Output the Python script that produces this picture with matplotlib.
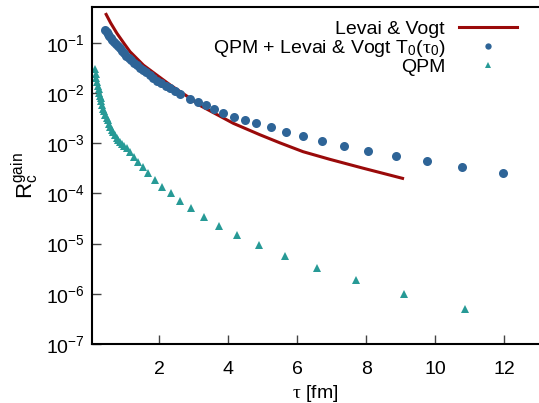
import matplotlib
matplotlib.use("Agg")
import matplotlib.pyplot as plt

plt.rcParams['font.family'] = ['Liberation Sans', 'DejaVu Sans']
plt.rcParams['mathtext.fontset'] = 'custom'
plt.rcParams['mathtext.rm'] = 'Liberation Sans'
plt.rcParams['mathtext.it'] = 'Liberation Serif'
plt.rcParams['font.size'] = 14

# Levai & Vogt (line)
lv_tau = [0.47, 0.6, 0.78, 1.0, 1.16, 1.55, 1.93, 2.32, 2.9, 3.18, 4.15, 4.92, 5.5, 6.17, 6.94, 7.9, 9.05]
lv_r = [0.37, 0.25, 0.156, 0.095, 0.067, 0.036, 0.023, 0.0146, 0.0079, 0.0057, 0.0025, 0.00148,
        0.00102, 0.00068, 0.00048, 0.00032, 0.0002]

# QPM + Levai & Vogt T0(tau0) (dots)
qlv_tau = [0.44, 0.48, 0.52, 0.56, 0.60, 0.65, 0.70, 0.75, 0.80, 0.86, 0.92, 0.98, 1.05, 1.12,
           1.19, 1.27, 1.35, 1.44, 1.53, 1.63, 1.73, 1.84, 1.95, 2.07, 2.20, 2.33, 2.46,
           2.61, 2.90, 3.14, 3.35, 3.59, 3.86, 4.17, 4.49, 4.82, 5.24, 5.67, 6.17, 6.73,
           7.36, 8.05, 8.85, 9.75, 10.78, 11.96]
qlv_r = [0.180, 0.165, 0.150, 0.137, 0.126, 0.114, 0.103, 0.094, 0.087, 0.078, 0.070, 0.063,
         0.056, 0.050, 0.045, 0.040, 0.036, 0.032, 0.029, 0.026, 0.023, 0.020, 0.0178,
         0.0158, 0.0140, 0.0124, 0.0110, 0.0095, 0.0078, 0.0066, 0.0057, 0.0048, 0.0040,
         0.0034, 0.0029, 0.0025, 0.0021, 0.00166, 0.00138, 0.00112, 0.0009, 0.00071,
         0.00057, 0.00044, 0.00034, 0.000257]

# QPM (triangles)
qpm_tau = [0.15, 0.17, 0.19, 0.21, 0.23, 0.25, 0.27, 0.29, 0.31, 0.33, 0.36, 0.39, 0.42, 0.45,
           0.48, 0.51, 0.55, 0.59, 0.63, 0.67, 0.72, 0.77, 0.82, 0.88, 0.94, 1.00, 1.07,
           1.16, 1.28, 1.40, 1.55, 1.69, 1.88, 2.10, 2.34, 2.61, 2.92, 3.30, 3.73, 4.26,
           4.89, 5.64, 6.57, 7.70, 9.10, 10.86]
qpm_r = [0.0302, 0.0245, 0.0204, 0.0170, 0.0141, 0.0120, 0.0102, 0.0089, 0.0079, 0.0069,
         0.0058, 0.0049, 0.0043, 0.0037, 0.0032, 0.0029, 0.00245, 0.00214, 0.00186, 0.00166,
         0.00145, 0.00129, 0.00117, 0.00105, 0.00095, 0.00087, 0.00079, 0.00068, 0.00054,
         0.00042, 0.000334, 0.000253, 0.000186, 0.000137, 0.000102, 7.2e-5, 5.1e-5,
         3.47e-5, 2.29e-5, 1.5e-5, 9.3e-6, 5.8e-6, 3.34e-6, 1.88e-6, 9.9e-7, 4.9e-7]

xticks = [2, 4, 6, 8, 10, 12]

fig = plt.figure(figsize=(5.39, 4.03), dpi=100)
ax = fig.add_axes([92 / 539, 59 / 403, 1 - 92 / 539, 337 / 403])

ax.plot(lv_tau, lv_r, color='#9a0a0a', lw=2.2, label='Levai & Vogt')
ax.plot(qlv_tau, qlv_r, 'o', color='#2e6497', ms=6.5, mew=0,
        label=r'QPM + Levai & Vogt T$_\mathrm{0}$($\tau_\mathrm{0}$)')
ax.plot(qpm_tau, qpm_r, '^', color='#279a96', ms=5.4, mew=0, label='QPM')

ax.set_yscale('log')
ax.set_xlim(0.06, 13.0)
ax.set_ylim(1e-7, 0.52)
ax.set_xticks(xticks)
ax.set_xticklabels([str(t) for t in xticks])
ax.minorticks_off()
ax.tick_params(direction='in', length=6.5, width=1.0, color='#444444', pad=5)
ax.tick_params(axis='x', pad=12)
for s in ['left', 'bottom', 'top']:
    ax.spines[s].set_linewidth(1.5)
ax.spines['right'].set_visible(False)

ax.set_xlabel(r'$\tau$ [fm]', labelpad=4)
ax.set_ylabel(r'R$_\mathrm{c}^\mathrm{gain}$', fontsize=16, labelpad=4)

ax.legend(loc='upper right', bbox_to_anchor=(517 / 539, 383 / 403),
          bbox_transform=fig.transFigure, frameon=False, markerfirst=False,
          handlelength=3.0, handletextpad=0.7, labelspacing=0.0,
          borderpad=0, borderaxespad=0, markerscale=0.7)

fig.savefig('out.png', dpi=100)
